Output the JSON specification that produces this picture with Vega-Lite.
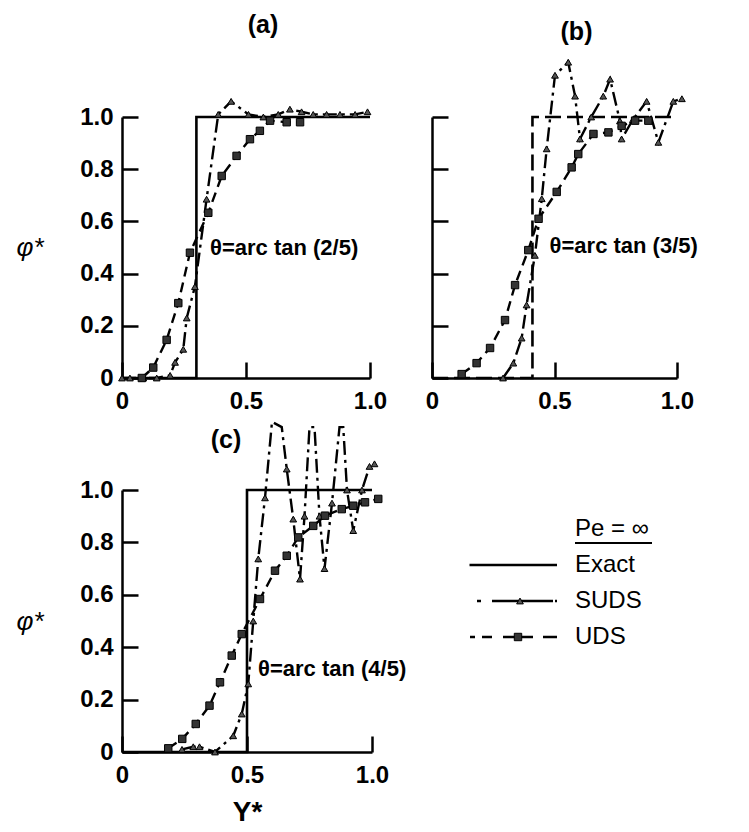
{
  "$schema": "https://vega.github.io/schema/vega-lite/v6.json",
  "background": "white",
  "padding": {"left": 16, "top": 13, "right": 5, "bottom": 5},
  "bounds": "flush",
  "columns": 2,
  "spacing": {"row": 112, "column": 60},
  "config": {
    "view": {"stroke": null},
    "font": "Liberation Sans",
    "axis": {"domainColor": "black", "domainWidth": 2.5, "tickColor": "black", "tickWidth": 2.5, "tickSize": -16, "labelColor": "black", "labelFont": "Liberation Sans", "labelFontSize": 24, "labelFontWeight": "bold", "titleColor": "black", "titleFont": "Liberation Sans", "titleFontSize": 26, "titleFontWeight": "normal", "grid": false, "labelFlush": false, "labelOverlap": false},
    "axisX": {"labelPadding": 27},
    "axisY": {"labelPadding": 25},
    "title": {"font": "Liberation Sans", "fontSize": 25, "fontWeight": "bold", "color": "black"}
  },
  "datasets": {
    "curves": [
      {"panel": "a", "series": "Exact", "x": 0, "y": 0}, {"panel": "a", "series": "Exact", "x": 0.3, "y": 0}, {"panel": "a", "series": "Exact", "x": 0.3, "y": 1}, {"panel": "a", "series": "Exact", "x": 1, "y": 1},
      {"panel": "a", "series": "SUDS", "x": 0, "y": 0}, {"panel": "a", "series": "SUDS", "x": 0.032, "y": 0}, {"panel": "a", "series": "SUDS", "x": 0.086, "y": 0}, {"panel": "a", "series": "SUDS", "x": 0.14, "y": 0}, {"panel": "a", "series": "SUDS", "x": 0.194, "y": 0.01}, {"panel": "a", "series": "SUDS", "x": 0.214, "y": 0.06}, {"panel": "a", "series": "SUDS", "x": 0.247, "y": 0.11}, {"panel": "a", "series": "SUDS", "x": 0.261, "y": 0.23}, {"panel": "a", "series": "SUDS", "x": 0.294, "y": 0.35}, {"panel": "a", "series": "SUDS", "x": 0.341, "y": 0.685}, {"panel": "a", "series": "SUDS", "x": 0.388, "y": 1.01}, {"panel": "a", "series": "SUDS", "x": 0.44, "y": 1.06}, {"panel": "a", "series": "SUDS", "x": 0.51, "y": 1.01}, {"panel": "a", "series": "SUDS", "x": 0.57, "y": 1.0}, {"panel": "a", "series": "SUDS", "x": 0.63, "y": 1.01}, {"panel": "a", "series": "SUDS", "x": 0.677, "y": 1.03}, {"panel": "a", "series": "SUDS", "x": 0.724, "y": 1.02}, {"panel": "a", "series": "SUDS", "x": 0.771, "y": 1.01}, {"panel": "a", "series": "SUDS", "x": 0.825, "y": 1.01}, {"panel": "a", "series": "SUDS", "x": 0.879, "y": 1.01}, {"panel": "a", "series": "SUDS", "x": 0.94, "y": 1.01}, {"panel": "a", "series": "SUDS", "x": 0.99, "y": 1.02},
      {"panel": "a", "series": "UDS", "x": 0.08, "y": 0}, {"panel": "a", "series": "UDS", "x": 0.126, "y": 0.04}, {"panel": "a", "series": "UDS", "x": 0.18, "y": 0.146}, {"panel": "a", "series": "UDS", "x": 0.227, "y": 0.287}, {"panel": "a", "series": "UDS", "x": 0.274, "y": 0.48}, {"panel": "a", "series": "UDS", "x": 0.348, "y": 0.633}, {"panel": "a", "series": "UDS", "x": 0.402, "y": 0.774}, {"panel": "a", "series": "UDS", "x": 0.462, "y": 0.851}, {"panel": "a", "series": "UDS", "x": 0.516, "y": 0.915}, {"panel": "a", "series": "UDS", "x": 0.556, "y": 0.947}, {"panel": "a", "series": "UDS", "x": 0.597, "y": 0.986}, {"panel": "a", "series": "UDS", "x": 0.664, "y": 0.98}, {"panel": "a", "series": "UDS", "x": 0.718, "y": 0.98},
      {"panel": "b", "series": "Exact", "x": 0, "y": 0}, {"panel": "b", "series": "Exact", "x": 0.41, "y": 0}, {"panel": "b", "series": "Exact", "x": 0.41, "y": 1}, {"panel": "b", "series": "Exact", "x": 1, "y": 1},
      {"panel": "b", "series": "SUDS", "x": 0.29, "y": 0}, {"panel": "b", "series": "SUDS", "x": 0.332, "y": 0.057}, {"panel": "b", "series": "SUDS", "x": 0.366, "y": 0.153}, {"panel": "b", "series": "SUDS", "x": 0.386, "y": 0.28}, {"panel": "b", "series": "SUDS", "x": 0.42, "y": 0.47}, {"panel": "b", "series": "SUDS", "x": 0.448, "y": 0.687}, {"panel": "b", "series": "SUDS", "x": 0.468, "y": 0.878}, {"panel": "b", "series": "SUDS", "x": 0.502, "y": 1.16}, {"panel": "b", "series": "SUDS", "x": 0.556, "y": 1.21}, {"panel": "b", "series": "SUDS", "x": 0.584, "y": 1.08}, {"panel": "b", "series": "SUDS", "x": 0.604, "y": 0.916}, {"panel": "b", "series": "SUDS", "x": 0.65, "y": 1.0}, {"panel": "b", "series": "SUDS", "x": 0.699, "y": 1.08}, {"panel": "b", "series": "SUDS", "x": 0.727, "y": 1.145}, {"panel": "b", "series": "SUDS", "x": 0.767, "y": 0.985}, {"panel": "b", "series": "SUDS", "x": 0.774, "y": 0.916}, {"panel": "b", "series": "SUDS", "x": 0.82, "y": 0.99}, {"panel": "b", "series": "SUDS", "x": 0.876, "y": 1.06}, {"panel": "b", "series": "SUDS", "x": 0.924, "y": 0.903}, {"panel": "b", "series": "SUDS", "x": 0.985, "y": 1.06}, {"panel": "b", "series": "SUDS", "x": 1.02, "y": 1.07},
      {"panel": "b", "series": "UDS", "x": 0.121, "y": 0.015}, {"panel": "b", "series": "UDS", "x": 0.182, "y": 0.057}, {"panel": "b", "series": "UDS", "x": 0.237, "y": 0.115}, {"panel": "b", "series": "UDS", "x": 0.298, "y": 0.222}, {"panel": "b", "series": "UDS", "x": 0.339, "y": 0.356}, {"panel": "b", "series": "UDS", "x": 0.393, "y": 0.49}, {"panel": "b", "series": "UDS", "x": 0.435, "y": 0.61}, {"panel": "b", "series": "UDS", "x": 0.509, "y": 0.713}, {"panel": "b", "series": "UDS", "x": 0.57, "y": 0.807}, {"panel": "b", "series": "UDS", "x": 0.597, "y": 0.858}, {"panel": "b", "series": "UDS", "x": 0.659, "y": 0.935}, {"panel": "b", "series": "UDS", "x": 0.72, "y": 0.941}, {"panel": "b", "series": "UDS", "x": 0.774, "y": 0.966}, {"panel": "b", "series": "UDS", "x": 0.829, "y": 0.986}, {"panel": "b", "series": "UDS", "x": 0.883, "y": 0.986},
      {"panel": "c", "series": "Exact", "x": 0, "y": 0}, {"panel": "c", "series": "Exact", "x": 0.5, "y": 0}, {"panel": "c", "series": "Exact", "x": 0.5, "y": 1}, {"panel": "c", "series": "Exact", "x": 1, "y": 1},
      {"panel": "c", "series": "SUDS", "x": 0.24, "y": 0.01}, {"panel": "c", "series": "SUDS", "x": 0.285, "y": 0.02}, {"panel": "c", "series": "SUDS", "x": 0.31, "y": 0.02}, {"panel": "c", "series": "SUDS", "x": 0.372, "y": 0.0}, {"panel": "c", "series": "SUDS", "x": 0.445, "y": 0.062}, {"panel": "c", "series": "SUDS", "x": 0.479, "y": 0.145}, {"panel": "c", "series": "SUDS", "x": 0.505, "y": 0.26}, {"panel": "c", "series": "SUDS", "x": 0.525, "y": 0.5}, {"panel": "c", "series": "SUDS", "x": 0.545, "y": 0.737}, {"panel": "c", "series": "SUDS", "x": 0.572, "y": 0.97}, {"panel": "c", "series": "SUDS", "x": 0.6, "y": 1.26}, {"panel": "c", "series": "SUDS", "x": 0.639, "y": 1.24}, {"panel": "c", "series": "SUDS", "x": 0.659, "y": 1.08}, {"panel": "c", "series": "SUDS", "x": 0.685, "y": 0.889}, {"panel": "c", "series": "SUDS", "x": 0.712, "y": 0.66}, {"panel": "c", "series": "SUDS", "x": 0.73, "y": 0.9}, {"panel": "c", "series": "SUDS", "x": 0.75, "y": 1.24}, {"panel": "c", "series": "SUDS", "x": 0.77, "y": 1.24}, {"panel": "c", "series": "SUDS", "x": 0.79, "y": 0.9}, {"panel": "c", "series": "SUDS", "x": 0.81, "y": 0.7}, {"panel": "c", "series": "SUDS", "x": 0.84, "y": 0.95}, {"panel": "c", "series": "SUDS", "x": 0.87, "y": 1.24}, {"panel": "c", "series": "SUDS", "x": 0.885, "y": 1.24}, {"panel": "c", "series": "SUDS", "x": 0.9, "y": 1.0}, {"panel": "c", "series": "SUDS", "x": 0.925, "y": 0.845}, {"panel": "c", "series": "SUDS", "x": 0.96, "y": 1.0}, {"panel": "c", "series": "SUDS", "x": 0.99, "y": 1.09}, {"panel": "c", "series": "SUDS", "x": 1.01, "y": 1.1},
      {"panel": "c", "series": "UDS", "x": 0.185, "y": 0.014}, {"panel": "c", "series": "UDS", "x": 0.241, "y": 0.05}, {"panel": "c", "series": "UDS", "x": 0.295, "y": 0.107}, {"panel": "c", "series": "UDS", "x": 0.35, "y": 0.177}, {"panel": "c", "series": "UDS", "x": 0.392, "y": 0.266}, {"panel": "c", "series": "UDS", "x": 0.439, "y": 0.368}, {"panel": "c", "series": "UDS", "x": 0.479, "y": 0.45}, {"panel": "c", "series": "UDS", "x": 0.552, "y": 0.584}, {"panel": "c", "series": "UDS", "x": 0.612, "y": 0.692}, {"panel": "c", "series": "UDS", "x": 0.659, "y": 0.749}, {"panel": "c", "series": "UDS", "x": 0.705, "y": 0.819}, {"panel": "c", "series": "UDS", "x": 0.765, "y": 0.863}, {"panel": "c", "series": "UDS", "x": 0.812, "y": 0.902}, {"panel": "c", "series": "UDS", "x": 0.879, "y": 0.927}, {"panel": "c", "series": "UDS", "x": 0.925, "y": 0.94}, {"panel": "c", "series": "UDS", "x": 0.972, "y": 0.953}, {"panel": "c", "series": "UDS", "x": 1.025, "y": 0.966}
    ],
    "notes": [
      {"panel": "a", "x": 0.355, "y": 0.5, "label": "θ=arc tan (2/5)"},
      {"panel": "b", "x": 0.48, "y": 0.505, "label": "θ=arc tan (3/5)"},
      {"panel": "c", "x": 0.544, "y": 0.317, "label": "θ=arc tan (4/5)"}
    ],
    "legend": [
      {"label": "Pe = ∞"}, {"label": "Exact"}, {"label": "SUDS"}, {"label": "UDS"}
    ]
  },
  "concat": [
    {
      "width": 248, "height": 261,
      "title": {"text": "(a)", "dx": 17, "offset": 58},
      "data": {"name": "curves"},
      "transform": [{"filter": "datum.panel == 'a'"}],
      "encoding": {
        "x": {"field": "x", "type": "quantitative", "scale": {"domain": [0, 1], "nice": false, "zero": false}, "axis": {"values": [0, 0.5, 1], "labelExpr": "datum.value == 0 ? '0' : format(datum.value, '.1f')", "title": null}},
        "y": {"field": "y", "type": "quantitative", "scale": {"domain": [0, 1], "nice": false}, "axis": {"values": [0, 0.2, 0.4, 0.6, 0.8, 1], "labelExpr": "datum.value == 0 ? '0' : format(datum.value, '.1f')", "title": "φ*", "titleAngle": 0, "titleX": -106, "titleY": 130, "titleAlign": "left", "titleBaseline": "middle", "titleFontStyle": "italic"}}
      },
      "layer": [
        {"transform": [{"filter": "datum.series == 'Exact'"}], "mark": {"type": "line", "color": "black", "strokeWidth": 2.6}, "encoding": {"order": {"value": null}}},
        {"transform": [{"filter": "datum.series == 'SUDS'"}], "mark": {"type": "line", "color": "black", "strokeWidth": 2.4, "strokeDash": [14, 5, 3, 5]}, "encoding": {"order": {"value": null}}},
        {"transform": [{"filter": "datum.series == 'UDS'"}], "mark": {"type": "line", "color": "black", "strokeWidth": 2.4, "strokeDash": [10, 6]}, "encoding": {"order": {"value": null}}},
        {"transform": [{"filter": "datum.series == 'SUDS' && datum.y < 1.23"}], "mark": {"type": "point", "shape": "triangle-up", "filled": true, "fill": "#555", "stroke": "black", "strokeWidth": 1, "size": 45, "opacity": 1}},
        {"transform": [{"filter": "datum.series == 'UDS'"}], "mark": {"type": "square", "fill": "#333", "stroke": "black", "strokeWidth": 1, "size": 55, "opacity": 1}},
        {"data": {"name": "notes"}, "transform": [{"filter": "datum.panel == 'a'"}], "mark": {"type": "text", "align": "left", "baseline": "middle", "fontSize": 22, "fontWeight": "bold", "color": "black"}, "encoding": {"text": {"field": "label"}}}
      ]
    },
    {
      "width": 245, "height": 261,
      "title": {"text": "(b)", "dx": 22, "offset": 12},
      "data": {"name": "curves"},
      "transform": [{"filter": "datum.panel == 'b'"}],
      "encoding": {
        "x": {"field": "x", "type": "quantitative", "scale": {"domain": [0, 1], "nice": false, "zero": false}, "axis": {"values": [0, 0.5, 1], "labelExpr": "datum.value == 0 ? '0' : format(datum.value, '.1f')", "title": null}},
        "y": {"field": "y", "type": "quantitative", "scale": {"domain": [0, 1], "nice": false}, "axis": {"values": [0, 0.2, 0.4, 0.6, 0.8, 1], "labels": false, "title": null}}
      },
      "layer": [
        {"transform": [{"filter": "datum.series == 'Exact'"}], "mark": {"type": "line", "color": "black", "strokeWidth": 2.6, "strokeDash": [16, 6]}, "encoding": {"order": {"value": null}}},
        {"transform": [{"filter": "datum.series == 'SUDS'"}], "mark": {"type": "line", "color": "black", "strokeWidth": 2.4, "strokeDash": [14, 5, 3, 5]}, "encoding": {"order": {"value": null}}},
        {"transform": [{"filter": "datum.series == 'UDS'"}], "mark": {"type": "line", "color": "black", "strokeWidth": 2.4, "strokeDash": [10, 6]}, "encoding": {"order": {"value": null}}},
        {"transform": [{"filter": "datum.series == 'SUDS' && datum.y < 1.23"}], "mark": {"type": "point", "shape": "triangle-up", "filled": true, "fill": "#555", "stroke": "black", "strokeWidth": 1, "size": 45, "opacity": 1}},
        {"transform": [{"filter": "datum.series == 'UDS'"}], "mark": {"type": "square", "fill": "#333", "stroke": "black", "strokeWidth": 1, "size": 55, "opacity": 1}},
        {"data": {"name": "notes"}, "transform": [{"filter": "datum.panel == 'b'"}], "mark": {"type": "text", "align": "left", "baseline": "middle", "fontSize": 22, "fontWeight": "bold", "color": "black"}, "encoding": {"text": {"field": "label"}}}
      ]
    },
    {
      "width": 250, "height": 262,
      "title": {"text": "(c)", "dx": -21, "offset": -36},
      "data": {"name": "curves"},
      "transform": [{"filter": "datum.panel == 'c'"}],
      "encoding": {
        "x": {"field": "x", "type": "quantitative", "scale": {"domain": [0, 1], "nice": false, "zero": false}, "axis": {"values": [0, 0.5, 1], "labelExpr": "datum.value == 0 ? '0' : format(datum.value, '.1f')", "title": "Y*", "titleX": 125, "titleY": 60, "titleBaseline": "middle", "titleFontSize": 28, "titleFontWeight": "bold"}},
        "y": {"field": "y", "type": "quantitative", "scale": {"domain": [0, 1], "nice": false}, "axis": {"values": [0, 0.2, 0.4, 0.6, 0.8, 1], "labelExpr": "datum.value == 0 ? '0' : format(datum.value, '.1f')", "title": "φ*", "titleAngle": 0, "titleX": -106, "titleY": 131, "titleAlign": "left", "titleBaseline": "middle", "titleFontStyle": "italic"}}
      },
      "layer": [
        {"transform": [{"filter": "datum.series == 'Exact'"}], "mark": {"type": "line", "color": "black", "strokeWidth": 2.6}, "encoding": {"order": {"value": null}}},
        {"transform": [{"filter": "datum.series == 'SUDS'"}], "mark": {"type": "line", "color": "black", "strokeWidth": 2.4, "strokeDash": [14, 5, 3, 5]}, "encoding": {"order": {"value": null}}},
        {"transform": [{"filter": "datum.series == 'UDS'"}], "mark": {"type": "line", "color": "black", "strokeWidth": 2.4, "strokeDash": [10, 6]}, "encoding": {"order": {"value": null}}},
        {"transform": [{"filter": "datum.series == 'SUDS' && datum.y < 1.2"}], "mark": {"type": "point", "shape": "triangle-up", "filled": true, "fill": "#555", "stroke": "black", "strokeWidth": 1, "size": 45, "opacity": 1}},
        {"transform": [{"filter": "datum.series == 'UDS'"}], "mark": {"type": "square", "fill": "#333", "stroke": "black", "strokeWidth": 1, "size": 55, "opacity": 1}},
        {"data": {"name": "notes"}, "transform": [{"filter": "datum.panel == 'c'"}], "mark": {"type": "text", "align": "left", "baseline": "middle", "fontSize": 22, "fontWeight": "bold", "color": "black"}, "encoding": {"text": {"field": "label"}}}
      ]
    },
    {
      "width": 250, "height": 262,
      "data": {"name": "legend"},
      "encoding": {
        "y": {"field": "label", "type": "nominal", "scale": {"type": "point", "domain": ["Pe = ∞", "Exact", "SUDS", "UDS"], "range": [39, 147], "padding": 0}, "axis": null}
      },
      "layer": [
        {"transform": [{"filter": "datum.label == 'Exact'"}], "mark": {"type": "rule", "color": "black", "strokeWidth": 2.4}, "encoding": {"x": {"datum": 0.15, "type": "quantitative", "scale": {"domain": [0, 1], "nice": false, "zero": false}, "axis": null}, "x2": {"datum": 0.5}}},
        {"transform": [{"filter": "datum.label == 'SUDS'"}], "mark": {"type": "rule", "color": "black", "strokeWidth": 2.4, "strokeDash": [4, 11, 61, 2, 2, 100]}, "encoding": {"x": {"datum": 0.18, "type": "quantitative"}, "x2": {"datum": 0.5}}},
        {"transform": [{"filter": "datum.label == 'UDS'"}], "mark": {"type": "rule", "color": "black", "strokeWidth": 2.4, "strokeDash": [5, 7, 10, 11, 30, 10, 14, 100]}, "encoding": {"x": {"datum": 0.152, "type": "quantitative"}, "x2": {"datum": 0.5}}},
        {"transform": [{"filter": "datum.label == 'SUDS'"}], "mark": {"type": "point", "shape": "triangle-up", "filled": true, "fill": "#555", "stroke": "black", "strokeWidth": 1, "size": 45, "opacity": 1}, "encoding": {"x": {"datum": 0.352, "type": "quantitative"}}},
        {"transform": [{"filter": "datum.label == 'UDS'"}], "mark": {"type": "square", "fill": "#333", "stroke": "black", "strokeWidth": 1, "size": 55, "opacity": 1}, "encoding": {"x": {"datum": 0.344, "type": "quantitative"}}},
        {"mark": {"type": "text", "align": "left", "baseline": "middle", "fontSize": 24, "fontWeight": "normal", "color": "black"}, "encoding": {"x": {"datum": 0.572, "type": "quantitative"}, "text": {"field": "label"}}},
        {"transform": [{"filter": "datum.label == 'Pe = ∞'"}], "mark": {"type": "rule", "color": "black", "strokeWidth": 2, "yOffset": 14}, "encoding": {"x": {"datum": 0.572, "type": "quantitative"}, "x2": {"datum": 0.88}}}
      ]
    }
  ]
}
